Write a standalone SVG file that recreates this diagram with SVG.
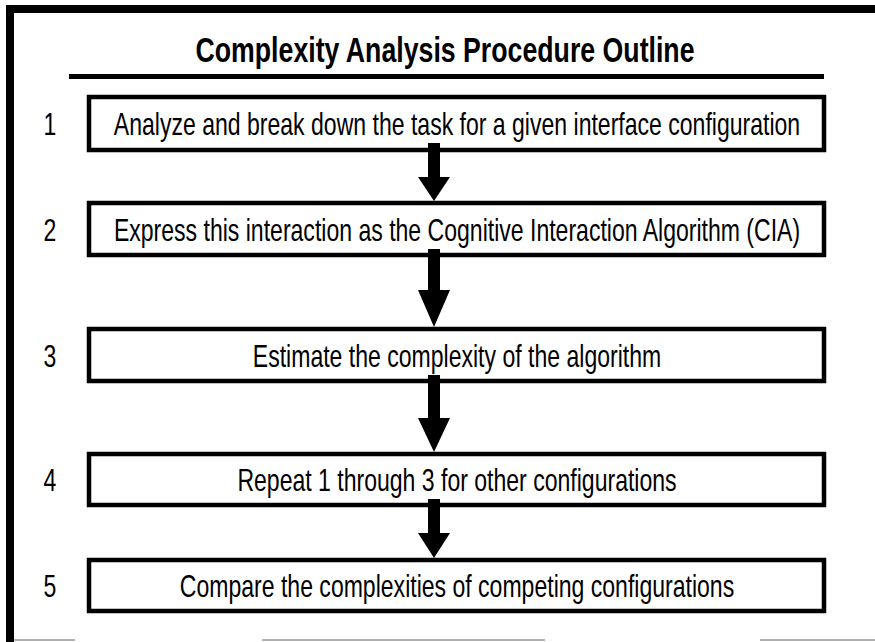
<svg xmlns="http://www.w3.org/2000/svg" width="875" height="642" viewBox="0 0 875 642">
  <style>
    .frame { fill: none; stroke: #000; stroke-width: 8; stroke-linejoin: miter; }
    .rule { stroke: #000; stroke-width: 5; }
    .edge { stroke: #9a9a9a; stroke-width: 1.5; }
    .box { fill: #fff; stroke: #000; stroke-width: 4.5; }
    .title { font-family: "Liberation Sans Narrow", "Liberation Sans", Arial, sans-serif; font-weight: bold; font-size: 35px; fill: #000; text-anchor: middle; }
    .label { font-family: "Liberation Sans Narrow", "Liberation Sans", Arial, sans-serif; font-size: 32px; fill: #000; text-anchor: middle; }
    .arrow { fill: #000; stroke: none; }
  </style>

  <rect width="875" height="642" fill="#fff"/>

  <!-- page frame: heavy rule on the left and top -->
  <path class="frame" d="M10,642 V9 H875"/>
  <!-- faint lower edge -->
  <line class="edge" x1="14" y1="640" x2="75" y2="640"/>
  <line class="edge" x1="262" y1="640" x2="545" y2="640"/>
  <line class="edge" x1="760" y1="640" x2="875" y2="640"/>

  <!-- heading -->
  <g id="title">
    <text class="title" transform="translate(445,62) scale(0.763,1)">Complexity Analysis Procedure Outline</text>
    <line class="rule" x1="69" y1="76.5" x2="824" y2="76.5"/>
  </g>

  <!-- procedure steps -->
  <g id="step1">
    <text class="label" transform="translate(50,135) scale(0.72,1)">1</text>
    <rect class="box" x="89" y="97" width="735" height="53"/>
    <text class="label" transform="translate(457,135) scale(0.72,1)">Analyze and break down the task for a given interface configuration</text>
  </g>
  <g id="step2">
    <text class="label" transform="translate(50,240.5) scale(0.72,1)">2</text>
    <rect class="box" x="89" y="203" width="735" height="52"/>
    <text class="label" transform="translate(457,240.5) scale(0.72,1)">Express this interaction as the Cognitive Interaction Algorithm (CIA)</text>
  </g>
  <g id="step3">
    <text class="label" transform="translate(50,366.5) scale(0.72,1)">3</text>
    <rect class="box" x="89" y="329" width="735" height="52"/>
    <text class="label" transform="translate(457,366.5) scale(0.72,1)">Estimate the complexity of the algorithm</text>
  </g>
  <g id="step4">
    <text class="label" transform="translate(50,491) scale(0.72,1)">4</text>
    <rect class="box" x="89" y="454" width="735" height="51"/>
    <text class="label" transform="translate(457,491) scale(0.72,1)">Repeat 1 through 3 for other configurations</text>
  </g>
  <g id="step5">
    <text class="label" transform="translate(50,597) scale(0.72,1)">5</text>
    <rect class="box" x="89" y="560" width="735" height="51"/>
    <text class="label" transform="translate(457,597) scale(0.72,1)">Compare the complexities of competing configurations</text>
  </g>

  <!-- block arrows between steps -->
  <g id="connectors">
    <path class="arrow" d="M428,143 H440 V177 H450 L434,201 L418,177 H428 Z"/>
    <path class="arrow" d="M428,249 H440 V290 H450 L434,327 L418,290 H428 Z"/>
    <path class="arrow" d="M428,375 H440 V418 H450 L434,452 L418,418 H428 Z"/>
    <path class="arrow" d="M428,499 H440 V533 H450 L434,558 L418,533 H428 Z"/>
  </g>
</svg>
